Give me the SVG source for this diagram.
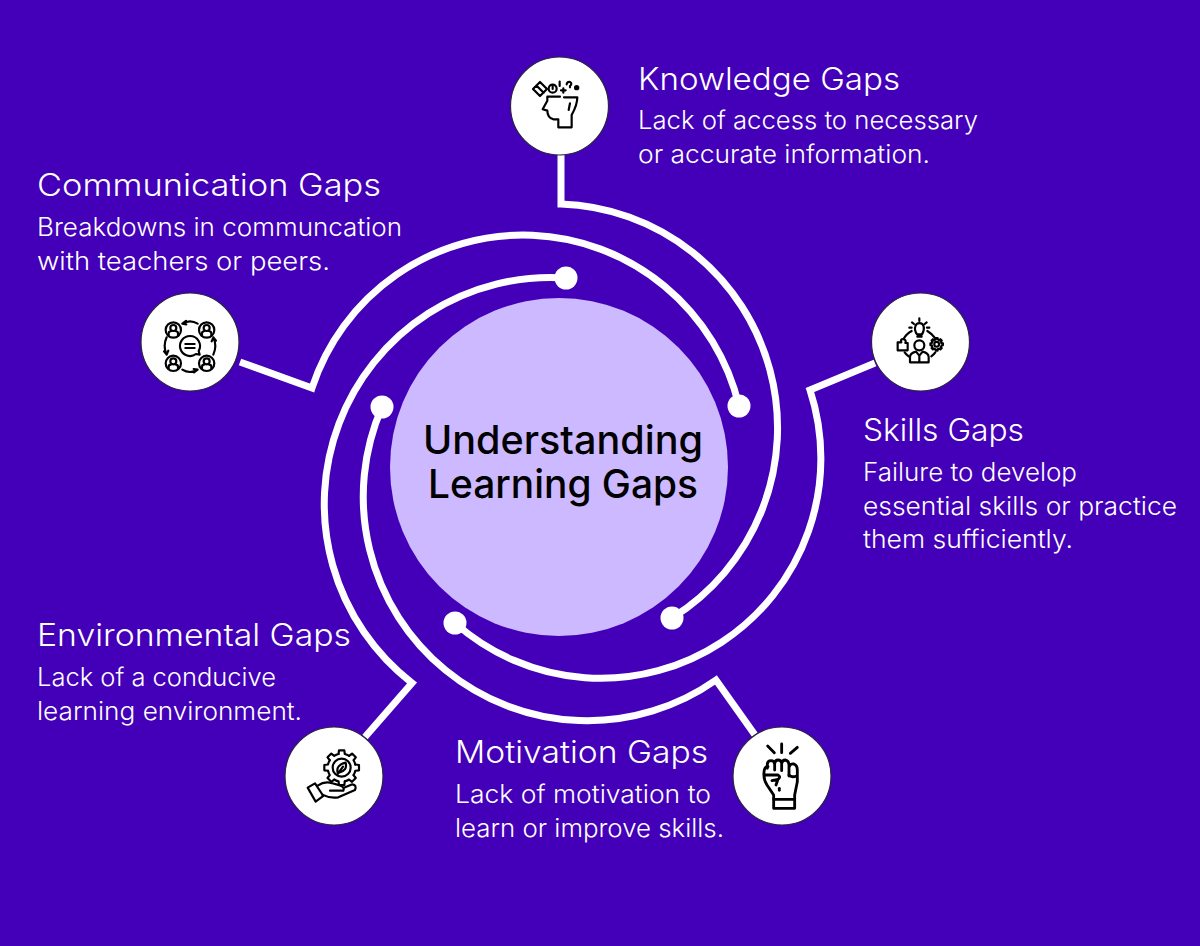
<svg xmlns="http://www.w3.org/2000/svg" xmlns:xlink="http://www.w3.org/1999/xlink" width="1200" height="946" viewBox="0 0 1200 946">
<style>
.bg{fill:#4300B8}
.link{fill:none;stroke:#fff;stroke-width:7;stroke-linejoin:miter;stroke-miterlimit:10}
.dot{fill:#fff}
.disc{fill:#fff;stroke:#2b2440;stroke-width:1.2}
.ic{fill:none;stroke:#000;stroke-width:6.5;stroke-linecap:round;stroke-linejoin:round}
.fist{stroke-width:8.5}
.icf{fill:#000}
text{font-family:Inter,"Open Sans","Liberation Sans",sans-serif}
.h{fill:#fff;font-size:31px;font-weight:300}
.b{fill:#fff;font-size:25.5px;font-weight:300}
.t{fill:#000;font-size:39px;font-weight:500}
</style>
<defs>
<path id="tooth" d="M-9.4,-41 L-8,-52 H8 L9.4,-41 A42,42 0 0 1 22.3,-35.6"/>
<g id="gear">
<use xlink:href="#tooth" href="#tooth"/>
<use xlink:href="#tooth" href="#tooth" transform="rotate(45)"/>
<use xlink:href="#tooth" href="#tooth" transform="rotate(90)"/>
<use xlink:href="#tooth" href="#tooth" transform="rotate(135)"/>
<use xlink:href="#tooth" href="#tooth" transform="rotate(180)"/>
<use xlink:href="#tooth" href="#tooth" transform="rotate(225)"/>
<use xlink:href="#tooth" href="#tooth" transform="rotate(270)"/>
<use xlink:href="#tooth" href="#tooth" transform="rotate(315)"/>
</g>
<g id="person">
<circle r="23"/>
<circle cy="-6" r="9"/>
<path d="M-14,16 V10 Q-14,4 -6,3 M14,16 V10 Q14,4 6,3"/>
</g>
</defs>
<rect class="bg" width="1200" height="946"/>
<g id="connectors">
<path class="link" d="M240,362 L312,388 A222,222 0 0 1 739,406"/>
<path class="link" d="M561,155 V204 A224,224 0 0 1 672,618"/>
<path class="link" d="M875,363 L810,390 A220,220 0 0 1 455,623"/>
<path class="link" d="M755,735 L716,680 A224,224 0 0 1 382,407"/>
<path class="link" d="M365,737 L412,683 A226.5,226.5 0 0 1 566,278"/>
<circle class="dot" cx="739" cy="406" r="11.5"/>
<circle class="dot" cx="672" cy="618" r="11.5"/>
<circle class="dot" cx="455" cy="623" r="11.5"/>
<circle class="dot" cx="382" cy="407" r="11.5"/>
<circle class="dot" cx="566" cy="278" r="11.5"/>
</g>
<g id="center">
<circle cx="559" cy="467" r="169" fill="#CDB9FF"/>
<text class="t" x="423" y="454" textLength="280" lengthAdjust="spacingAndGlyphs">Understanding</text>
<text class="t" x="428" y="498" textLength="270" lengthAdjust="spacingAndGlyphs">Learning Gaps</text>
</g>
<g id="knowledge">
<circle class="disc" cx="559.5" cy="106" r="49"/>
<g class="ic" transform="translate(490 40) scale(.3333)">
<path d="M210,170 H172 V182 L158,208 L172,212 Q172,232 190,238 H205 V262 H245 V225 Q262,195 262,172 H222"/>
<path d="M240,190 L236,210"/>
<path d="M129,147 L150,126 L171,147 L150,168 Z M140,137 L161,158"/>
<circle cx="188" cy="146" r="12"/>
<path d="M188,138 V147 M209,125 V138 M220,145 V158 M213,151 H227 M230,133 Q232,124 240,126 Q248,130 240,138 V142"/>
<circle class="icf" stroke="none" cx="260" cy="143" r="8"/>
</g>
<text class="h" x="638" y="90" textLength="262" lengthAdjust="spacingAndGlyphs">Knowledge Gaps</text>
<text class="b" x="638" y="129" textLength="340" lengthAdjust="spacingAndGlyphs">Lack of access to necessary</text>
<text class="b" x="638" y="163" textLength="292" lengthAdjust="spacingAndGlyphs">or accurate information.</text>
</g>
<g id="communication">
<circle class="disc" cx="190" cy="342" r="49"/>
<g class="ic" transform="translate(130 285) scale(.3333)">
<use xlink:href="#person" href="#person" x="130" y="135"/>
<use xlink:href="#person" href="#person" x="230" y="135"/>
<use xlink:href="#person" href="#person" x="130" y="235"/>
<use xlink:href="#person" href="#person" x="230" y="235"/>
<path d="M180,153 A30,30 0 1 0 198,207 L209,209 L206,198 A30,30 0 0 0 180,153 Z"/>
<path d="M166,177 H194 M166,189 H194"/>
<path d="M203,116 Q180,102 157,116 M157,116 L168,108 M157,116 L169,118"/>
<path d="M250,157 Q262,183 250,209 M250,157 L245,169 M250,157 L258,167"/>
<path d="M157,254 Q180,268 203,254 M203,254 L192,262 M203,254 L191,252"/>
<path d="M110,209 Q98,183 110,157 M110,209 L115,197 M110,209 L102,199"/>
</g>
<text class="h" x="37" y="196" textLength="344" lengthAdjust="spacingAndGlyphs">Communication Gaps</text>
<text class="b" x="37" y="236" textLength="365" lengthAdjust="spacingAndGlyphs">Breakdowns in communcation</text>
<text class="b" x="37" y="270" textLength="293" lengthAdjust="spacingAndGlyphs">with teachers or peers.</text>
</g>
<g id="skills">
<circle class="disc" cx="920.5" cy="342" r="49"/>
<g class="ic" transform="translate(860 285) scale(.3333)">
<path d="M171,148 Q162,135 166,124 A13,13 0 0 1 191,124 Q194,135 186,148 Z M172,155 H185"/>
<path d="M178,100 V108 M156,112 L162,117 M200,112 L194,117 M148,128 H155 M201,128 H208"/>
<path d="M155,138 Q138,148 132,160 M202,138 Q218,148 224,158 M134,202 Q138,208 146,214 M226,202 Q222,208 214,214"/>
<circle cx="178" cy="181" r="15"/>
<path d="M150,232 V216 Q150,205 168,200 L178,212 L188,200 Q206,205 206,216 V232 Z M178,212 V232"/>
<path d="M113,196 V172 H124 Q120,162 130,162 Q140,165 136,174 H143 V196 Z"/>
<g transform="translate(230 178) scale(.36)" style="stroke-width:18"><use xlink:href="#gear" href="#gear"/><circle r="20"/></g>
</g>
<text class="h" x="863" y="441" textLength="161" lengthAdjust="spacingAndGlyphs">Skills Gaps</text>
<text class="b" x="863" y="481" textLength="214" lengthAdjust="spacingAndGlyphs">Failure to develop</text>
<text class="b" x="863" y="515" textLength="314" lengthAdjust="spacingAndGlyphs">essential skills or practice</text>
<text class="b" x="863" y="548" textLength="210" lengthAdjust="spacingAndGlyphs">them sufficiently.</text>
</g>
<g id="motivation">
<circle class="disc" cx="782" cy="776" r="49"/>
<g class="ic fist" transform="translate(722 720) scale(.3333)">
<path d="M137,78 L157,98 M179,72 V98 M226,82 L205,100"/>
<path d="M155,238 H218 V265 H155 Z"/>
<path d="M155,238 V225 L135,195 Q122,175 127,150 Q130,138 138,140"/>
<path d="M136,145 V132 Q137,122 147,122 Q157,122 158,132 V150 M158,132 Q159,120 168,120 Q178,120 179,130 V152 M179,132 Q180,120 190,120 Q200,122 201,135 V168 M201,142 Q205,130 214,132 Q226,135 226,150 V185 L218,225 V238"/>
<path d="M128,165 H168 Q178,170 168,178 L150,182 M201,165 Q208,174 224,168 M168,178 L162,195"/>
<path d="M172,205 V211"/>
</g>
<text class="h" x="455" y="763" textLength="253" lengthAdjust="spacingAndGlyphs">Motivation Gaps</text>
<text class="b" x="455" y="803" textLength="256" lengthAdjust="spacingAndGlyphs">Lack of motivation to</text>
<text class="b" x="455" y="837" textLength="269" lengthAdjust="spacingAndGlyphs">learn or improve skills.</text>
</g>
<g id="environmental">
<circle class="disc" cx="334" cy="776" r="49"/>
<g class="ic" transform="translate(275 720) scale(.3333)">
<g transform="translate(200 143)"><use xlink:href="#gear" href="#gear"/><circle r="27"/></g>
<path d="M188,158 Q182,135 212,128 Q218,152 192,158 M188,162 L204,140"/>
<path d="M98,203 L120,190 L145,228 L122,245 Z"/>
<path d="M128,197 Q150,182 172,190 L197,197 Q210,202 205,212 L165,212 M205,204 L232,193 Q246,195 240,210 L190,232 Q165,236 142,224"/>
</g>
<text class="h" x="37" y="646" textLength="314" lengthAdjust="spacingAndGlyphs">Environmental Gaps</text>
<text class="b" x="37" y="686" textLength="239" lengthAdjust="spacingAndGlyphs">Lack of a conducive</text>
<text class="b" x="37" y="720" textLength="265" lengthAdjust="spacingAndGlyphs">learning environment.</text>
</g>
</svg>
